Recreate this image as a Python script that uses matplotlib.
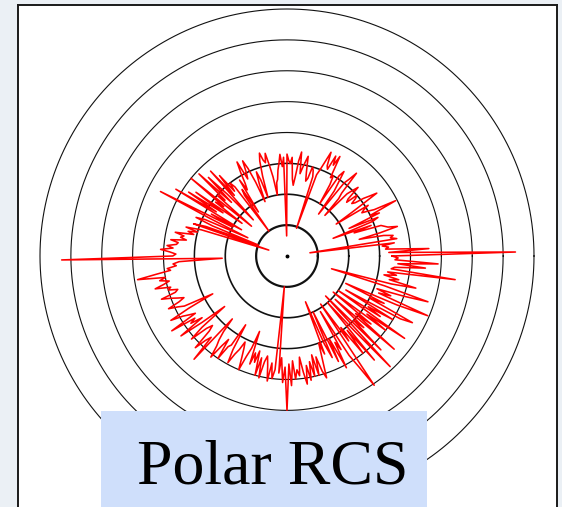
import numpy as np
import matplotlib.pyplot as plt
from matplotlib.patches import Rectangle

# angle in degrees (counter-clockwise from +x), one sample per degree
angles_deg = np.arange(0, 360)

# RCS trace, radius in ring units (ring k drawn at r = k)
rcs = [
    3.4, 7.4, 3.3, 4.6, 3.2, 3.3, 3.1, 3.5, 0.75, 3.6,
    3.4, 3.5, 3.2, 2.4, 3.1, 3.7, 3.4, 3.3, 3.2, 2.3,
    2.9, 1.6, 3.0, 3.2, 2.2, 3.3, 3.0, 3.95, 3.2, 3.0,
    2.8, 2.9, 3.1, 1.9, 2.6, 3.55, 3.3, 3.1, 2.8, 2.7,
    2.9, 3.0, 2.6, 2.7, 3.2, 3.0, 2.8, 1.8, 2.5, 2.7,
    3.5, 3.2, 3.0, 1.7, 2.6, 2.9, 3.3, 3.1, 2.0, 2.7,
    3.0, 2.9, 3.65, 3.3, 3.6, 3.1, 3.2, 3.65, 3.3, 3.0,
    2.8, 0.95, 2.7, 2.9, 3.0, 2.6, 2.5, 2.8, 3.3, 3.1,
    2.9, 2.7, 3.4, 3.1, 2.6, 2.3, 2.5, 3.2, 3.0, 3.1,
    3.3, 0.65, 3.2, 2.9, 3.3, 3.0, 2.8, 2.5, 2.4, 2.0,
    2.6, 3.0, 3.4, 3.1, 3.2, 3.45, 3.2, 2.7, 2.0, 2.6,
    2.9, 2.5, 1.9, 2.6, 3.1, 3.4, 3.0, 2.8, 3.45, 3.1,
    2.7, 2.5, 2.9, 1.7, 2.6, 2.4, 1.0, 2.8, 3.0, 2.7,
    3.4, 2.6, 3.7, 1.6, 2.8, 3.6, 2.5, 3.9, 2.7, 3.0,
    1.5, 4.0, 2.6, 2.9, 1.8, 3.6, 2.5, 3.8, 2.7, 4.2,
    1.7, 2.8, 2.0, 4.6, 2.8, 1.4, 2.9, 3.2, 2.6, 1.0,
    2.8, 3.2, 0.62, 2.9, 3.4, 3.0, 3.3, 3.1, 3.7, 3.4,
    3.5, 3.3, 3.8, 3.55, 3.6, 3.9, 3.7, 4.1, 3.8, 3.6,
    3.7, 7.3, 2.1, 3.5, 3.7, 3.6, 3.9, 3.8, 4.3, 4.9,
    4.0, 4.2, 3.9, 4.1, 4.4, 3.9, 4.0, 3.7, 3.8, 4.3,
    4.0, 3.8, 3.6, 3.8, 4.2, 3.9, 3.7, 2.7, 3.6, 4.3,
    3.9, 3.7, 3.5, 4.45, 3.6, 3.8, 3.4, 4.3, 3.5, 2.6,
    3.6, 4.1, 3.5, 3.3, 3.5, 4.2, 3.8, 3.6, 4.5, 2.7,
    3.2, 3.5, 3.7, 4.1, 3.6, 3.3, 4.0, 3.5, 3.4, 2.6,
    3.5, 3.95, 3.6, 3.4, 3.1, 3.3, 3.6, 4.0, 3.5, 3.2,
    2.6, 3.7, 3.3, 3.6, 3.2, 4.0, 3.4, 4.05, 3.5, 3.3,
    3.6, 4.1, 3.5, 4.0, 3.7, 1.0, 3.8, 3.3, 4.1, 3.6,
    5.0, 3.5, 4.2, 3.4, 4.0, 3.7, 3.9, 3.3, 3.8, 4.2,
    3.6, 4.1, 3.5, 4.0, 3.3, 4.0, 3.4, 3.9, 4.15, 3.5,
    3.0, 3.4, 1.6, 3.1, 3.6, 2.0, 3.8, 3.0, 4.1, 3.2,
    3.5, 2.1, 3.8, 4.3, 5.05, 1.9, 3.4, 2.9, 4.0, 3.1,
    4.4, 2.0, 3.3, 4.9, 1.8, 4.3, 3.0, 3.4, 2.1, 4.6,
    2.9, 3.5, 1.9, 4.0, 3.2, 4.65, 2.0, 3.6, 3.1, 4.0,
    2.2, 4.2, 4.6, 3.0, 3.5, 2.1, 3.9, 4.95, 3.2, 3.6,
    3.1, 4.0, 4.8, 3.3, 1.5, 3.5, 4.3, 3.4, 3.7, 3.2,
    3.6, 3.3, 5.5, 3.4, 3.5, 4.5, 3.6, 4.9, 3.5, 3.6,
]

rings = [1, 2, 3, 4, 5, 6, 7, 8]
ring_widths = [1.6, 1.2, 1.1, 0.85, 0.8, 0.8, 0.8, 0.8]
label = "Polar RCS"

W, H = 562, 507
fig = plt.figure(figsize=(W / 100, H / 100), dpi=100)
fig.patch.set_facecolor('#ebf0f5')

# white framed panel
frame = fig.add_axes([18 / W, 0, (557 - 18) / W, (507 - 5) / H])
frame.set_facecolor('white')
frame.set_xticks([])
frame.set_yticks([])
for side in ['left', 'top', 'right']:
    frame.spines[side].set_color('#1a1a1a')
    frame.spines[side].set_linewidth(1.4)
frame.spines['bottom'].set_visible(False)

# polar plot, centre at (287, 256) px, outer ring radius 247 px
cx, cy, R = 287, 256, 247
ax = fig.add_axes([(cx - R) / W, (H - cy - R) / H, 2 * R / W, 2 * R / H],
                  projection='polar')
ax.set_facecolor('none')
ax.set_rlim(0, 8)
ax.grid(False)
ax.set_xticks([])
ax.set_yticks([])
ax.spines['polar'].set_visible(False)

theta_full = np.linspace(0, 2 * np.pi, 721)
for r, lw in zip(rings, ring_widths):
    ax.plot(theta_full, np.full_like(theta_full, r), color='#111111',
            linewidth=lw, clip_on=False, zorder=2)

theta = np.deg2rad(np.append(angles_deg, angles_deg[0] + 360))
rr = np.append(rcs, rcs[0])
ax.plot(theta, rr, color='red', linewidth=1.15, zorder=3)
ax.plot([0], [0], 'o', color='black', markersize=1.8, zorder=4)

# caption box
fig.add_artist(Rectangle((101 / W, 0), (427 - 101) / W, (507 - 411) / H,
                         transform=fig.transFigure, facecolor='#cfdffb',
                         edgecolor='none', zorder=10))
fig.text(137 / W, (507 - 483) / H, label, ha='left', va='baseline',
         fontsize=46, family='Liberation Serif', color='black', zorder=11)

plt.savefig('out.png', dpi=100, facecolor=fig.get_facecolor())
